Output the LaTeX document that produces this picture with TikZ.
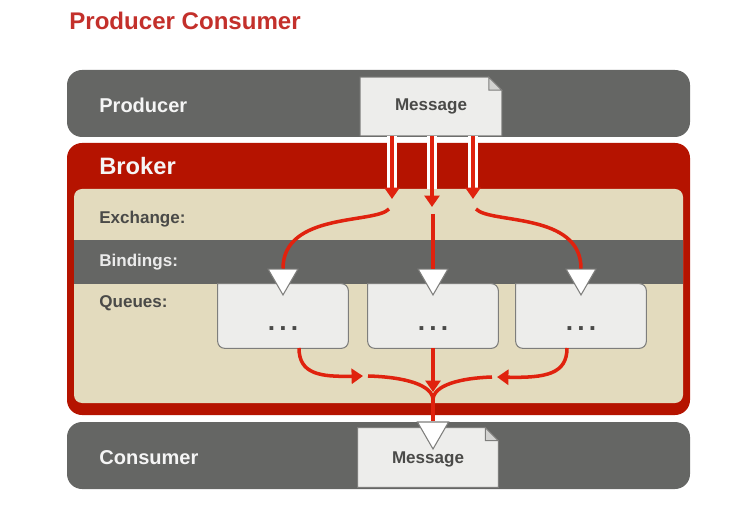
\documentclass[tikz,border=0pt]{standalone}
\usepackage{fontspec}
\setmainfont{Liberation Sans}
\usetikzlibrary{positioning, arrows.meta, shapes.geometric}

\definecolor{titlered}{HTML}{C3302B}
\definecolor{bargray}{HTML}{656664}
\definecolor{brokerred}{HTML}{B51300}
\definecolor{flowred}{HTML}{E0220E}
\definecolor{paper}{HTML}{E3DBBE}
\definecolor{boxgray}{HTML}{EDEDEB}
\definecolor{foldgray}{HTML}{D2D2D0}
\definecolor{edgegray}{HTML}{7E7E7C}
\definecolor{labelgray}{HTML}{4A4A48}

\tikzset{
  barlabel/.style={anchor=west, inner sep=0, text=white!96!black,
    font=\bfseries\fontsize{11.4}{13}\selectfont},
  rowlabel/.style={anchor=west, inner sep=0, text=labelgray,
    font=\bfseries\fontsize{9.7}{11}\selectfont},
  msgbox/.style={minimum width=2.82cm, minimum height=1.16cm, inner sep=0},
  msgtext/.style={text=labelgray, font=\bfseries\fontsize{9.7}{11}\selectfont},
  queue/.style={minimum width=2.6cm, minimum height=1.28cm, inner sep=0},
  hook/.style={regular polygon, regular polygon sides=3, shape border rotate=180,
    minimum size=0.69cm, inner sep=0, fill=white, draw=edgegray, line width=0.6pt},
  pipe/.style={flowred, line width=2pt},
  flow/.style={pipe, -{Triangle[length=6.5pt,width=8.5pt]}},
}

\begin{document}
\begin{tikzpicture}[x=0.02cm, y=-0.02cm]
  % Size settings
  \def\ear{0.26cm}   % folded corner of a message
  \def\bend{0.3cm}   % corner radius of the bars

  \useasboundingbox (0,0) rectangle (749,509);

  % Title
  \node[anchor=west, inner sep=0, text=titlered,
    font=\bfseries\fontsize{13.7}{16}\selectfont] (title) at (69,21) {Producer Consumer};

  % Producer bar
  \fill[bargray, rounded corners=\bend] (67,70) rectangle (690,137);
  \node[barlabel] (producer) at (99,105) {Producer};

  % Broker with its inner panel
  \fill[brokerred, rounded corners=\bend] (67,143) rectangle (690,415);
  \node[barlabel, font=\bfseries\fontsize{13.5}{16}\selectfont] (broker) at (99,166) {Broker};
  \fill[paper, rounded corners=0.16cm] (74,189) rectangle (683,403);
  \fill[bargray] (74,240) rectangle (683,284);

  \node[rowlabel] (exchange) at (99,219) {Exchange:};
  \node[rowlabel, text=white!92!black] (bindings) at (99,262) {Bindings:};
  \node[rowlabel] (queues) at (99,303) {Queues:};

  % Queues, each with its binding triangle
  \foreach \i/\x in {1/283, 2/433, 3/581} {
    \node[queue] (q\i) at (\x,316) {};
    \draw[fill=boxgray, draw=edgegray, line width=0.6pt, rounded corners=0.14cm]
      (q\i.north west) -- (q\i.south west) -- (q\i.south east) -- (q\i.north east)
      [sharp corners] -- cycle;
    \node[text=labelgray, font=\bfseries\fontsize{15}{17}\selectfont]
      (dots\i) at ([yshift=-0.25cm]q\i.center) {.\hspace{2.4pt}.\hspace{2.4pt}.};
    \node[hook] (b\i) at (\x,277.7) {};
  }

  % Message from the producer
  \node[msgbox] (pmsg) at (431,106.5) {};
  \filldraw[fill=boxgray, draw=edgegray, line width=0.6pt]
    (pmsg.north west) -- ([xshift=-\ear]pmsg.north east)
    -- ([yshift=-\ear]pmsg.north east) -- (pmsg.south east) -- (pmsg.south west) -- cycle;
  \filldraw[fill=foldgray, draw=edgegray, line width=0.6pt]
    ([xshift=-\ear]pmsg.north east) -- ([xshift=-\ear, yshift=-\ear]pmsg.north east)
    -- ([yshift=-\ear]pmsg.north east) -- cycle;
  \node[msgtext] at (pmsg) {Message};

  % Into the exchange
  \coordinate (ex1) at (392,199);
  \coordinate (ex2) at (432,207);
  \coordinate (ex3) at (473,199);
  \foreach \e in {ex1, ex2, ex3} {
    \draw[white, line width=5.5pt] (\e |- pmsg.south) -- (\e |- 0,189);
    \draw[flow] (\e |- pmsg.south) -- (\e);
  }

  % Exchange to bindings
  \coordinate (x1) at (389,209);
  \coordinate (x2) at (433,214);
  \coordinate (x3) at (476,209);
  \draw[pipe] (x1) .. controls (375,224) and (283,212) .. (b1.north);
  \draw[pipe] (x2) -- (b2.north);
  \draw[pipe] (x3) .. controls (490,224) and (581,212) .. (b3.north);

  % Queues to the consumer
  \coordinate (s1) at (299,348);
  \coordinate (s3) at (567,348);
  \coordinate (m1) at (363,376);
  \coordinate (m2) at (433,392);
  \coordinate (m3) at (497,377);
  \coordinate (n1) at (368,376);
  \coordinate (n3) at (492,377);
  \coordinate (mg) at (433,400);
  \draw[flow] (s1) .. controls (299,374) and (320,377) .. (m1);
  \draw[flow] (q2.south) -- (m2);
  \draw[flow] (s3) .. controls (567,374) and (546,378) .. (m3);
  \draw[pipe] (n1) .. controls (405,377) and (433,385) .. (mg);
  \draw[pipe] (n3) .. controls (461,378) and (433,385) .. (mg);

  % Consumer bar
  \fill[bargray, rounded corners=\bend] (67,422) rectangle (690,489);
  \node[barlabel] (consumer) at (99,458) {Consumer};

  \node[msgbox, minimum width=2.8cm, minimum height=1.18cm] (cmsg) at (428,457.5) {};
  \filldraw[fill=boxgray, draw=edgegray, line width=0.6pt]
    (cmsg.north west) -- ([xshift=-\ear]cmsg.north east)
    -- ([yshift=-\ear]cmsg.north east) -- (cmsg.south east) -- (cmsg.south west) -- cycle;
  \filldraw[fill=foldgray, draw=edgegray, line width=0.6pt]
    ([xshift=-\ear]cmsg.north east) -- ([xshift=-\ear, yshift=-\ear]cmsg.north east)
    -- ([yshift=-\ear]cmsg.north east) -- cycle;
  \node[msgtext] at ([yshift=-0.03cm]cmsg.center) {Message};

  \node[hook, minimum size=0.72cm] (ct) at (433,431) {};
  \draw[pipe] (mg) -- (ct.north);

\end{tikzpicture}
\end{document}
